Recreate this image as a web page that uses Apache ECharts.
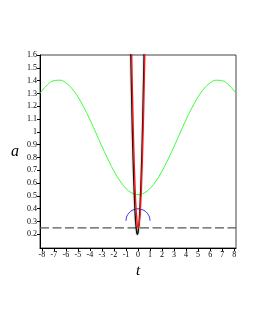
<!DOCTYPE html>
<html><head><meta charset="utf-8">
<script src="https://cdn.jsdelivr.net/npm/echarts@6/dist/echarts.min.js"></script>
<style>html,body{margin:0;padding:0;background:#fff}#c{width:255px;height:330px}</style>
</head><body><div id="c"></div>
<script>
// Tick labels
var xTicks = [-8,-7,-6,-5,-4,-3,-2,-1,0,1,2,3,4,5,6,7,8];
var yTicks = [0.2,0.3,0.4,0.5,0.6,0.7,0.8,0.9,1.0,1.1,1.2,1.3,1.4,1.5,1.6];
// Green curve
var greenT = [-8.15,-8,-7.5,-7,-6.5,-6,-5.5,-5,-4.5,-4,-3.5,-3,-2.5,-2,-1.5,-1,-0.5,0,0.5,1,1.5,2,2.5,3,3.5,4,4.5,5,5.5,6,6.5,7,7.5,8,8.15];
var greenA = [1.300,1.319,1.370,1.399,1.403,1.382,1.338,1.273,1.190,1.095,0.992,0.887,0.786,0.694,0.617,0.559,0.522,0.510,0.522,0.559,0.617,0.694,0.786,0.887,0.992,1.095,1.190,1.273,1.338,1.382,1.403,1.399,1.370,1.319,1.300];
// Black curve
var blackT = [-0.62,-0.5,-0.4,-0.3,-0.2,-0.1,-0.05,0,0.1,0.2,0.3,0.4,0.5,0.52];
var blackA = [1.69,1.13,0.76,0.49,0.30,0.21,0.20,0.21,0.30,0.49,0.76,1.13,1.59,1.69];
// Red curve
var redT = [-0.55,-0.5,-0.4,-0.3,-0.2,-0.1,0,0.02,0.1,0.2,0.3,0.4,0.5,0.6];
var redA = [1.73,1.48,1.05,0.72,0.47,0.32,0.25,0.25,0.28,0.40,0.61,0.91,1.30,1.78];
// Blue arc
var blueT = [-1,-0.95,-0.9,-0.75,-0.5,-0.25,0,0.25,0.5,0.75,0.9,0.95,1];
var blueA = [0.305,0.334,0.345,0.367,0.386,0.395,0.399,0.395,0.386,0.367,0.345,0.334,0.305];
// Dashed level
var levelT = [-8.15, 8.15];
var levelA = [0.25, 0.25];

function pairs(t, a){ return t.map(function(v,i){return [v,a[i]];}); }
var serif = '"Liberation Serif","DejaVu Serif",serif';
var chart = echarts.init(document.getElementById('c'), null, {renderer:'canvas'});
chart.setOption({
  animation:false,
  grid:{left:40,top:55,right:19,bottom:82,show:true,borderColor:'#444',borderWidth:1,backgroundColor:'transparent'},
  xAxis:{type:'value',min:-8.15,max:8.15,
    name:'t',nameLocation:'middle',nameGap:10,
    nameTextStyle:{fontFamily:serif,fontStyle:'italic',fontSize:15,color:'#000'},
    axisLine:{show:true,onZero:false,lineStyle:{color:'#000',width:1}},
    axisTick:{show:true,length:3,inside:false,customValues:xTicks,lineStyle:{color:'#000'}},
    axisLabel:{customValues:xTicks,fontFamily:serif,fontSize:8,color:'#000',margin:3,formatter:function(v){return String(Math.round(v));}},
    splitLine:{show:false}},
  yAxis:{type:'value',min:0.093,max:1.6,
    name:'a',nameLocation:'middle',nameGap:21,nameRotate:0,
    nameTextStyle:{fontFamily:serif,fontStyle:'italic',fontSize:16,color:'#000'},
    axisLine:{show:true,onZero:false,lineStyle:{color:'#000',width:1}},
    axisTick:{show:true,length:3,inside:false,customValues:yTicks,lineStyle:{color:'#000'}},
    axisLabel:{customValues:yTicks,fontFamily:serif,fontSize:8,color:'#000',margin:3,formatter:function(v){return String(+(+v).toFixed(1));}},
    splitLine:{show:false}},
  series:[
    {type:'line',data:pairs(levelT,levelA),showSymbol:false,silent:true,lineStyle:{color:'#555',width:1.3,type:[9,3.5]}},
    {type:'line',data:pairs(greenT,greenA),showSymbol:false,smooth:true,silent:true,lineStyle:{color:'#33ff33',width:1}},
    {type:'line',data:pairs(blueT,blueA),showSymbol:false,smooth:true,silent:true,lineStyle:{color:'#2222ff',width:1}},
    {type:'line',data:pairs(blackT,blackA),showSymbol:false,smooth:true,silent:true,clip:true,lineStyle:{color:'#111',width:1.3,shadowColor:'rgba(0,0,0,0.4)',shadowBlur:2}},
    {type:'line',data:pairs(redT,redA),showSymbol:false,smooth:true,silent:true,clip:true,lineStyle:{color:'#ff1111',width:1.3}}
  ]
});
</script></body></html>
